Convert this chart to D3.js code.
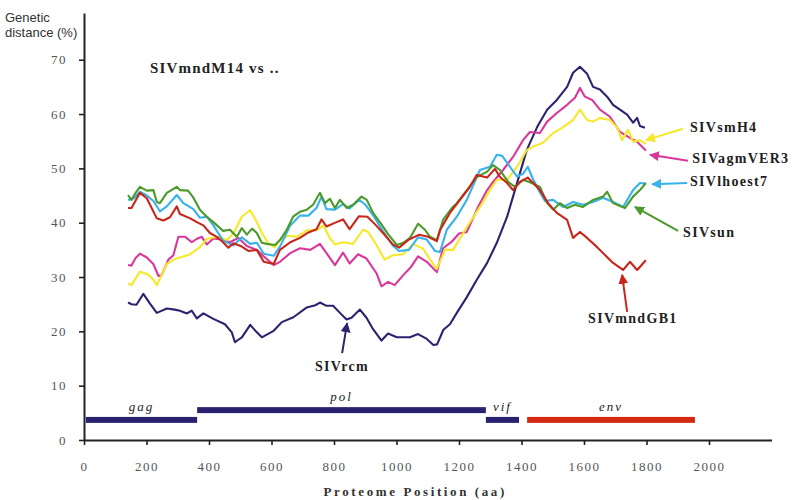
<!DOCTYPE html>
<html>
<head>
<meta charset="utf-8">
<script src="https://cdn.jsdelivr.net/npm/d3@7"></script>
<style>
  body { margin: 0; background: #fff; }
  .tick text { font-family: "Liberation Serif", serif; fill: #555; }
</style>
</head>
<body>
<script>
// x tick values and y tick values
const xTicks = [0, 200, 400, 600, 800, 1000, 1200, 1400, 1600, 1800, 2000];
const yTicks = [0, 10, 20, 30, 40, 50, 60, 70];

// genes: name, start aa, end aa, level (%)
const geneNames = ["gag", "pol", "vif", "env"];
const geneStart = [6, 362, 1286, 1418];
const geneEnd = [362, 1286, 1392, 1955];
const geneLevel = [3.7, 5.5, 3.7, 3.7];
const geneColors = ["#2a2170", "#2a2170", "#2a2170", "#d42a12"];

// series: [position (aa), genetic distance (%)]
const rcm = [[141,25.3],[152,25.0],[168,24.9],[180,26.0],[190,26.9],[210,25.2],[233,23.4],[265,24.2],[290,24.0],[307,23.8],[329,23.3],[345,23.8],[361,22.4],[382,23.3],[414,22.3],[451,21.3],[473,19.8],[483,18.0],[495,18.5],[505,18.9],[532,21.2],[550,20.0],[569,18.9],[607,20.1],[633,21.7],[670,22.6],[713,24.4],[740,24.8],[755,25.3],[776,24.7],[797,24.7],[819,23.4],[840,22.2],[856,22.5],[883,24.0],[904,22.5],[925,20.4],[952,18.3],[973,19.6],[1001,18.9],[1043,18.9],[1069,19.5],[1097,18.6],[1118,17.5],[1130,17.6],[1150,20.3],[1171,21.3],[1193,23.4],[1225,26.3],[1257,29.5],[1290,32.6],[1321,36.3],[1354,41.1],[1379,46.0],[1417,53.4],[1450,57.6],[1482,60.8],[1513,62.6],[1546,65.0],[1565,67.6],[1587,68.7],[1610,67.4],[1629,65.0],[1651,64.5],[1674,63.2],[1693,61.7],[1715,60.8],[1738,59.9],[1757,58.4],[1770,59.3],[1779,57.8],[1795,57.5]];
const agmVER3 = [[141,32.2],[152,32.1],[165,33.5],[179,34.3],[201,33.6],[222,32.4],[238,30.2],[248,30.3],[270,33.2],[286,34.0],[302,37.4],[324,37.4],[345,36.4],[360,37.0],[377,37.4],[393,36.0],[414,37.1],[440,36.9],[467,36.4],[494,37.2],[521,35.7],[553,35.0],[575,33.8],[607,32.2],[627,32.8],[660,34.4],[691,35.3],[724,35.0],[755,36.1],[776,34.4],[803,32.2],[829,34.5],[850,32.5],[877,34.2],[904,33.4],[936,30.7],[952,28.3],[973,29.1],[994,28.5],[1021,30.3],[1047,31.9],[1069,33.8],[1097,32.8],[1129,30.9],[1149,35.3],[1177,36.5],[1200,38.0],[1225,38.3],[1261,42.9],[1290,46.0],[1309,47.5],[1341,49.7],[1373,52.1],[1405,55.2],[1427,56.7],[1459,56.5],[1482,58.6],[1513,60.2],[1546,61.7],[1571,63.0],[1587,64.8],[1603,63.2],[1626,62.6],[1651,60.8],[1683,59.5],[1715,56.7],[1747,55.6],[1770,54.9],[1798,53.3]];
const smH4 = [[141,28.8],[152,28.5],[179,31.0],[206,30.4],[222,29.5],[233,28.5],[265,32.4],[291,33.3],[307,33.6],[340,34.2],[371,35.5],[393,37.0],[425,37.4],[457,36.8],[478,38.0],[505,41.1],[532,42.3],[553,40.1],[569,38.2],[590,36.1],[611,35.5],[627,36.8],[654,37.6],[681,37.4],[713,38.6],[744,38.6],[766,39.5],[787,37.1],[803,36.0],[829,36.4],[861,36.1],[893,38.7],[909,38.3],[936,35.9],[962,33.2],[988,34.0],[1021,34.2],[1053,36.1],[1085,35.2],[1117,32.4],[1129,31.5],[1155,35.0],[1181,35.0],[1225,39.2],[1267,42.9],[1299,46.0],[1321,47.9],[1354,47.9],[1386,50.3],[1417,53.4],[1437,54.0],[1469,54.7],[1501,56.5],[1533,57.6],[1565,58.9],[1587,60.8],[1610,58.9],[1629,58.6],[1651,59.3],[1683,58.9],[1706,57.5],[1722,55.2],[1741,57.1],[1757,54.9],[1779,55.2],[1798,54.5]];
const lhoest7 = [[141,44.2],[160,44.5],[179,45.7],[201,45.0],[222,44.0],[243,42.1],[265,43.0],[297,45.1],[318,43.6],[350,42.5],[371,40.9],[393,41.1],[414,39.5],[445,36.7],[478,35.8],[505,37.3],[532,36.1],[553,36.3],[575,34.3],[607,33.9],[627,35.6],[660,39.5],[691,41.3],[718,41.3],[744,42.7],[760,44.8],[776,42.5],[803,42.4],[829,43.4],[850,42.6],[880,44.2],[901,43.3],[928,41.1],[957,38.4],[988,35.8],[1008,34.8],[1040,35.0],[1069,37.3],[1097,36.9],[1123,34.8],[1139,34.6],[1161,38.7],[1193,41.1],[1225,44.2],[1267,49.7],[1299,50.3],[1321,52.5],[1338,52.3],[1363,50.3],[1386,48.5],[1405,49.0],[1420,50.3],[1437,48.0],[1455,46.0],[1475,44.0],[1501,44.2],[1533,42.9],[1565,43.8],[1597,43.3],[1629,43.8],[1661,44.6],[1693,43.8],[1725,42.9],[1757,46.0],[1779,47.3],[1798,47.2]];
const sun = [[141,45.1],[152,44.2],[165,45.5],[179,46.6],[201,45.9],[222,46.0],[233,43.8],[243,43.6],[265,45.5],[297,46.6],[307,46.0],[333,45.9],[350,44.6],[371,42.4],[393,41.1],[414,40.1],[445,38.5],[467,38.7],[489,37.4],[505,39.0],[521,37.8],[538,38.9],[553,38.1],[569,36.3],[585,36.1],[611,35.9],[627,36.8],[649,38.7],[669,41.1],[691,42.0],[713,42.4],[733,43.3],[755,45.5],[771,43.6],[787,44.4],[803,42.7],[819,44.2],[841,42.7],[861,43.3],[888,44.8],[905,44.2],[925,41.8],[953,39.6],[973,37.9],[1001,35.9],[1022,36.3],[1043,37.2],[1069,39.8],[1091,38.7],[1107,37.4],[1129,36.8],[1149,40.5],[1177,42.7],[1193,43.6],[1225,46.0],[1257,48.4],[1290,49.4],[1309,50.6],[1331,49.7],[1357,47.5],[1379,46.6],[1405,47.9],[1433,47.3],[1459,46.6],[1482,43.6],[1501,42.4],[1523,43.6],[1546,42.7],[1571,43.3],[1597,42.9],[1629,44.2],[1661,44.8],[1674,45.7],[1693,43.6],[1731,42.7],[1757,44.8],[1779,46.0],[1798,47.3]];
const mndGB1 = [[141,42.7],[152,42.7],[179,45.5],[201,44.5],[233,40.8],[254,40.4],[275,41.0],[297,43.0],[307,41.6],[340,40.8],[361,40.1],[382,39.5],[403,38.1],[425,37.4],[445,36.4],[462,35.4],[478,36.2],[505,35.6],[526,34.8],[553,35.0],[575,32.8],[607,32.4],[627,35.0],[660,36.4],[691,37.2],[718,38.2],[744,38.8],[760,40.6],[776,39.3],[808,40.1],[829,40.6],[850,38.8],[880,41.2],[907,41.1],[933,39.6],[957,38.1],[988,36.0],[1008,35.4],[1040,36.9],[1073,37.8],[1101,37.4],[1129,36.6],[1140,38.7],[1171,41.8],[1203,44.2],[1235,46.6],[1257,48.8],[1290,48.3],[1315,49.9],[1331,48.4],[1354,47.3],[1373,46.0],[1395,47.5],[1420,48.3],[1437,47.3],[1459,46.0],[1485,43.6],[1513,41.8],[1546,40.5],[1565,37.2],[1587,38.3],[1610,37.2],[1642,35.5],[1661,34.4],[1693,32.6],[1725,31.3],[1747,32.8],[1770,31.3],[1798,33.1]];

const seriesNames = ["SIVrcm", "SIVagmVER3", "SIVsmH4", "SIVlhoest7", "SIVsun", "SIVmndGB1"];
const seriesData = [rcm, agmVER3, smH4, lhoest7, sun, mndGB1];
const seriesColors = ["#2b2370", "#d8389c", "#f6e82a", "#38b2ea", "#4b9a2a", "#c8261a"];

// label annotations in data units: text [x, y], arrow from [x, y] to [x, y]
const labelPos = [[739, 12.7], [1946, 51.0], [1939, 56.7], [1939, 46.8], [1917, 37.4], [1613, 21.5]];
const arrowFrom = [[826, 16.0], [1933, 51.4], [1917, 57.3], [1930, 47.3], [1901, 38.5], [1738, 23.6]];
const arrowTo = [[842, 21.5], [1811, 52.5], [1798, 55.2], [1818, 47.1], [1763, 42.9], [1722, 30.4]];

const width = 800, height = 500;

const svg = d3.select("body").append("svg")
  .attr("width", width)
  .attr("height", height);

const x = d3.scaleLinear().domain([0, 2200]).range([84, 771.5]);
const y = d3.scaleLinear().domain([0, 78.6]).range([440, 13]);

// axes
const xAxis = svg.append("g")
  .attr("transform", `translate(0, ${y(0)})`)
  .call(d3.axisBottom(x).tickValues(xTicks).tickFormat(d3.format("d"))
    .tickSize(5).tickSizeOuter(0).tickPadding(17));
const yAxis = svg.append("g")
  .attr("transform", `translate(${x(0)}, 0)`)
  .call(d3.axisLeft(y).tickValues(yTicks).tickSize(5).tickSizeOuter(0).tickPadding(12));

[xAxis, yAxis].forEach(g => {
  g.select(".domain").attr("stroke", "#222").attr("stroke-width", 2);
  g.selectAll(".tick line").attr("stroke", "#222").attr("stroke-width", 1.6);
  g.selectAll(".tick text")
    .style("font-size", "13px")
    .style("letter-spacing", "1.5px");
});

// axis titles
svg.append("text")
  .attr("x", 5).attr("y", 22)
  .style("font-family", "Liberation Sans, Arial, sans-serif")
  .style("font-size", "13px").style("fill", "#333")
  .text("Genetic");
svg.append("text")
  .attr("x", 5).attr("y", 37)
  .style("font-family", "Liberation Sans, Arial, sans-serif")
  .style("font-size", "13px").style("fill", "#333")
  .text("distance (%)");

svg.append("text")
  .attr("x", x(1060)).attr("y", 496)
  .attr("text-anchor", "middle")
  .style("font-family", "Liberation Serif, serif")
  .style("font-weight", "bold")
  .style("font-size", "13px")
  .style("letter-spacing", "2.6px")
  .style("fill", "#333")
  .text("Proteome Position (aa)");

// chart title
svg.append("text")
  .attr("x", x(211)).attr("y", y(67.6))
  .style("font-family", "Liberation Serif, serif")
  .style("font-weight", "bold")
  .style("font-size", "15px")
  .style("letter-spacing", "1.2px")
  .style("fill", "#222")
  .text("SIVmndM14 vs ..");

// gene bars
const genes = geneNames.map((name, i) => ({
  name, start: geneStart[i], end: geneEnd[i], level: geneLevel[i], color: geneColors[i]
}));

svg.selectAll(".gene")
  .data(genes)
  .enter()
  .append("rect")
    .attr("class", "gene")
    .attr("x", d => x(d.start))
    .attr("width", d => x(d.end) - x(d.start))
    .attr("y", d => y(d.level + 0.55))
    .attr("height", d => y(d.level - 0.55) - y(d.level + 0.55))
    .style("fill", d => d.color);

svg.selectAll(".gene-label")
  .data(genes)
  .enter()
  .append("text")
    .attr("class", "gene-label")
    .attr("x", d => x((d.start + d.end) / 2))
    .attr("y", d => y(d.level + 0.55) - 6)
    .attr("text-anchor", "middle")
    .style("font-family", "Liberation Serif, serif")
    .style("font-style", "italic")
    .style("font-size", "13px")
    .style("letter-spacing", "2px")
    .style("fill", "#222")
    .text(d => d.name);

// lines
const line = d3.line()
  .x(d => x(d[0]))
  .y(d => y(d[1]));

svg.selectAll(".series")
  .data(seriesData)
  .enter()
  .append("path")
    .attr("class", "series")
    .attr("d", d => line(d))
    .style("fill", "none")
    .style("stroke", (d, i) => seriesColors[i])
    .style("stroke-width", 2.1)
    .style("stroke-linejoin", "round");

// arrow markers
const defs = svg.append("defs");
seriesColors.forEach((c, i) => {
  defs.append("marker")
    .attr("id", "arrow" + i)
    .attr("viewBox", "0 0 10 10")
    .attr("refX", 9).attr("refY", 5)
    .attr("markerWidth", 5).attr("markerHeight", 5)
    .attr("markerUnits", "strokeWidth")
    .attr("orient", "auto")
    .append("path")
      .attr("d", "M0,0 L10,5 L0,10 z")
      .style("fill", c);
});

seriesNames.forEach((name, i) => {
  svg.append("line")
    .attr("x1", x(arrowFrom[i][0])).attr("y1", y(arrowFrom[i][1]))
    .attr("x2", x(arrowTo[i][0])).attr("y2", y(arrowTo[i][1]))
    .style("stroke", seriesColors[i])
    .style("stroke-width", 2)
    .attr("marker-end", `url(#arrow${i})`);

  svg.append("text")
    .attr("x", x(labelPos[i][0])).attr("y", y(labelPos[i][1]))
    .style("font-family", "Liberation Serif, serif")
    .style("font-weight", "bold")
    .style("font-size", "14px")
    .style("letter-spacing", "1.3px")
    .style("fill", "#222")
    .text(name);
});
</script>
</body>
</html>
